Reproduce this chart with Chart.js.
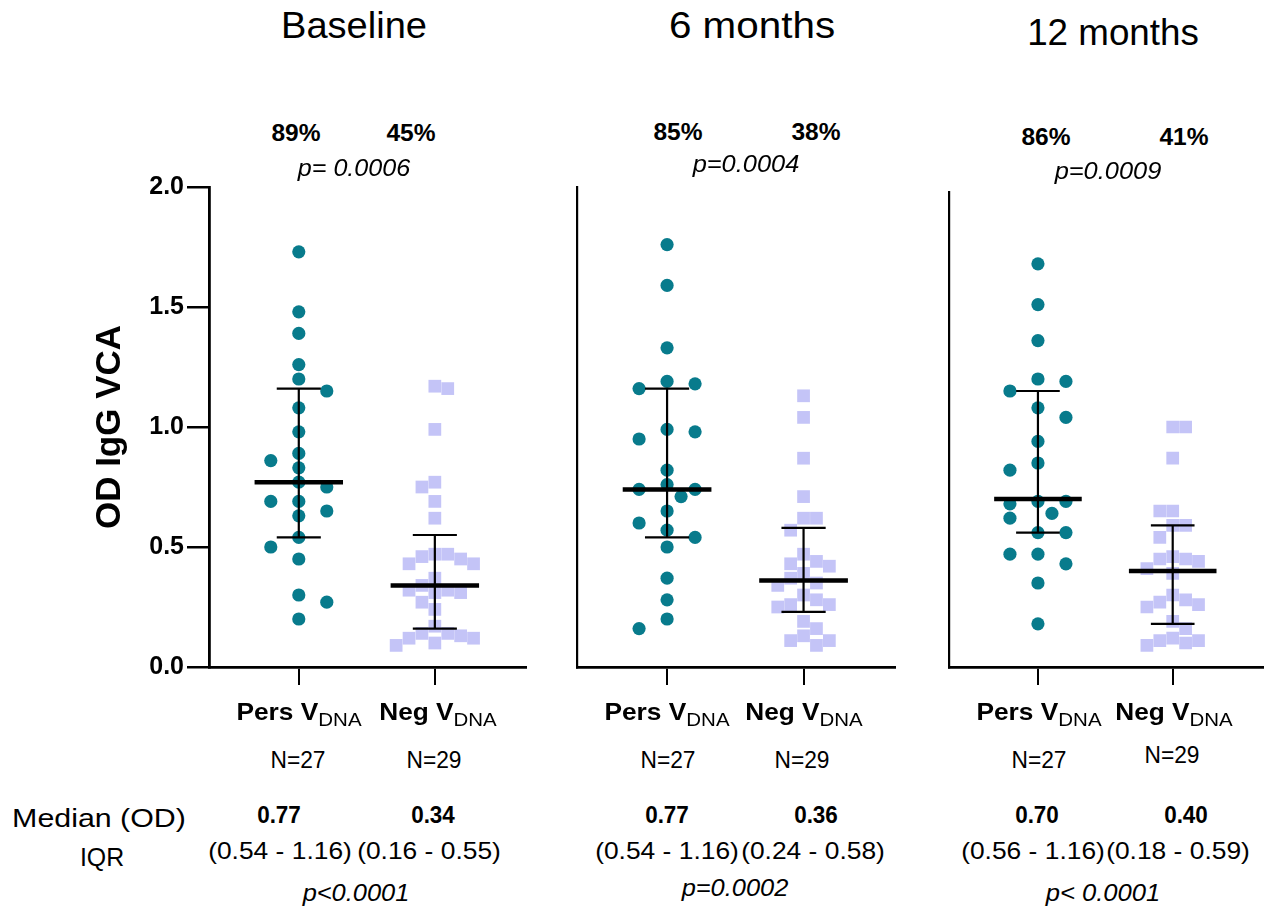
<!DOCTYPE html>
<html><head><meta charset="utf-8">
<script src="https://cdn.jsdelivr.net/npm/chart.js@4.4.0/dist/chart.umd.min.js"></script>
<style>
html,body{margin:0;padding:0;background:#fff;}
body{width:1272px;height:911px;overflow:hidden;position:relative;font-family:"Liberation Sans",Arial,Helvetica,sans-serif;}
.t{position:absolute;white-space:nowrap;line-height:1;color:#000;transform-origin:50% 50%;}
.t sub{font-size:0.78em;font-weight:normal;vertical-align:baseline;position:relative;top:0.32em;}
.c{position:absolute;}
</style></head><body>
<script>
// ---------- data ----------
const panelTitles = ['Baseline', '6 months', '12 months'];
const groupNames = ['Pers', 'Neg'];
const positivity = [['89%', '45%'], ['85%', '38%'], ['86%', '41%']];
const pTop = ['p= 0.0006', 'p=0.0004', 'p=0.0009'];
const nCounts = [[27, 29], [27, 29], [27, 29]];
const medianText = [['0.77', '0.34'], ['0.77', '0.36'], ['0.70', '0.40']];
const iqrText = [['(0.54 - 1.16)', '(0.16 - 0.55)'], ['(0.54 - 1.16)', '(0.24 - 0.58)'], ['(0.56 - 1.16)', '(0.18 - 0.59)']];
const pBottom = ['p<0.0001', 'p=0.0002', 'p< 0.0001'];
const yTicks = [0.0, 0.5, 1.0, 1.5, 2.0];

// drawn median and IQR
const medians = [[0.77, 0.34], [0.74, 0.36], [0.70, 0.40]];
const q1 = [[0.54, 0.16], [0.54, 0.23], [0.56, 0.18]];
const q3 = [[1.16, 0.55], [1.16, 0.58], [1.15, 0.59]];

// individual values
const baselinePers = [1.73, 1.48, 1.39, 1.26, 1.20, 1.15, 1.08, 0.98, 0.89, 0.86, 0.83, 0.77, 0.75, 0.69, 0.69, 0.65, 0.63, 0.54, 0.50, 0.45, 0.30, 0.27, 0.20];
const baselineNeg = [1.16, 1.17, 0.99, 0.77, 0.75, 0.69, 0.62, 0.47, 0.47, 0.46, 0.45, 0.43, 0.43, 0.37, 0.34, 0.32, 0.32, 0.31, 0.31, 0.27, 0.24, 0.17, 0.14, 0.14, 0.13, 0.12, 0.12, 0.10, 0.09];
const month6Pers = [1.76, 1.59, 1.33, 1.19, 1.18, 1.16, 0.99, 0.98, 0.95, 0.82, 0.76, 0.74, 0.74, 0.71, 0.65, 0.60, 0.57, 0.54, 0.50, 0.37, 0.28, 0.20, 0.16];
const month6Neg = [1.13, 1.04, 0.87, 0.71, 0.62, 0.62, 0.57, 0.47, 0.44, 0.43, 0.42, 0.39, 0.37, 0.35, 0.34, 0.30, 0.28, 0.26, 0.26, 0.25, 0.19, 0.16, 0.13, 0.11, 0.11, 0.09];
const month12Pers = [1.68, 1.51, 1.36, 1.20, 1.19, 1.15, 1.08, 1.04, 0.94, 0.85, 0.82, 0.69, 0.69, 0.68, 0.64, 0.62, 0.56, 0.56, 0.47, 0.47, 0.43, 0.35, 0.18];
const month12Neg = [1.00, 1.00, 0.87, 0.65, 0.65, 0.59, 0.59, 0.54, 0.46, 0.45, 0.45, 0.44, 0.41, 0.39, 0.30, 0.28, 0.27, 0.26, 0.25, 0.19, 0.16, 0.12, 0.11, 0.11, 0.10, 0.09];

const seriesPers = [baselinePers, month6Pers, month12Pers];
const seriesNeg = [baselineNeg, month6Neg, month12Neg];

// ---------- style / layout ----------
const TEAL = '#087b8c';
const LAV = '#c4c4f7';
const FONT = '"Liberation Sans", Arial, Helvetica, sans-serif';
const X_MIN = 0.34, X_MAX = 2.67;
const MED_HALF = 0.325, CAP_HALF = 0.162;
const AREA_BOTTOM = 667, CANVAS_TOP = 150, CANVAS_H = 560, X_AXIS_H = 40;
const geo = [
  {left: 209, right: 528, yAxisW: 209, yMax: 2.0, axisW: 2.8, ticks: true},
  {left: 577, right: 897, yAxisW: 20, yMax: 2.0, axisW: 2.2, ticks: false},
  {left: 949, right: 1265, yAxisW: 20, yMax: 1.98, axisW: 2.2, ticks: false}
];

// beeswarm placement in pixel space, via the chart's own scales
function swarm(chart, dsIndex, values, center, unitPx, blockCols, hyPx, levels) {
  const xs = chart.scales.x, ys = chart.scales.y;
  const cpx = xs.getPixelForValue(center);
  const order = values.map((v, i) => i).sort((a, b) => values[b] - values[a]);
  const placed = [];
  const pts = new Array(values.length);
  const free = (c, py) => !placed.some(p => Math.abs(p.col - c) <= blockCols && Math.abs(p.py - py) < hyPx);
  const sideCount = s => placed.filter(p => Math.sign(p.col) === s).length;
  for (const i of order) {
    const py = ys.getPixelForValue(values[i]);
    let col = null;
    for (const lv of levels) {
      const opts = lv === 0 ? [0] : (sideCount(-1) < sideCount(1) ? [-lv, lv] : [lv, -lv]);
      for (const c of opts) { if (free(c, py)) { col = c; break; } }
      if (col !== null) break;
    }
    if (col === null) {
      let best = -1;
      for (const lv of levels) for (const c of (lv === 0 ? [0] : [lv, -lv])) {
        let md = Infinity;
        placed.forEach(p => { md = Math.min(md, Math.hypot((p.col - c) * unitPx, p.py - py)); });
        if (md > best) { best = md; col = c; }
      }
    }
    placed.push({col, py});
    pts[i] = {x: xs.getValueForPixel(cpx + col * unitPx), y: values[i]};
  }
  chart.data.datasets[dsIndex].data = pts;
}

geo.forEach((g, p) => {
  const cLeft = g.left - g.yAxisW;
  const padR = 7;
  const cW = g.right + padR - cLeft;
  const areaTop = AREA_BOTTOM - g.yMax * 240;
  const padTop = areaTop - CANVAS_TOP;
  const padBottom = CANVAS_H - padTop - (AREA_BOTTOM - areaTop) - X_AXIS_H;
  const div = document.createElement('div');
  div.className = 'c';
  div.style.left = cLeft + 'px'; div.style.top = CANVAS_TOP + 'px';
  div.style.width = cW + 'px'; div.style.height = CANVAS_H + 'px';
  const cv = document.createElement('canvas');
  cv.width = cW; cv.height = CANVAS_H;
  div.appendChild(cv); document.body.appendChild(div);

  const med = medians[p];
  const medData = [
    {x: 1 - MED_HALF, y: med[0]}, {x: 1 + MED_HALF, y: med[0]}, {x: 1.5, y: null},
    {x: 2 - MED_HALF, y: med[1]}, {x: 2 + MED_HALF, y: med[1]}
  ];
  const iqrData = [];
  [1, 2].forEach((c, k) => {
    iqrData.push({x: c, y: q1[p][k]}, {x: c, y: q3[p][k]}, {x: c, y: null});
    iqrData.push({x: c - CAP_HALF, y: q3[p][k]}, {x: c + CAP_HALF, y: q3[p][k]}, {x: c, y: null});
    iqrData.push({x: c - CAP_HALF, y: q1[p][k]}, {x: c + CAP_HALF, y: q1[p][k]}, {x: c, y: null});
  });

  const yScale = {
    type: 'linear', min: 0, max: g.yMax,
    afterBuildTicks: s => { s.ticks = yTicks.filter(v => v <= g.yMax + 1e-9).map(v => ({value: v})); },
    afterFit: s => { s.width = g.yAxisW; },
    border: {display: true, color: '#000', width: g.axisW},
    grid: {display: g.ticks, drawOnChartArea: false, drawTicks: true, tickLength: 22, color: '#000', lineWidth: 2.5},
    ticks: {display: g.ticks, padding: 3, color: '#000', font: {family: FONT, size: 25, weight: 'bold'},
            callback: v => Number(v).toFixed(1)},
    title: {display: g.ticks, text: 'OD IgG VCA', color: '#000', font: {family: FONT, size: 35, weight: 'bold'},
            padding: {top: 89, bottom: 0}}
  };
  const xScale = {
    type: 'linear', min: X_MIN, max: X_MAX,
    afterBuildTicks: s => { s.ticks = [{value: 1}, {value: 2}]; },
    afterFit: s => { s.height = X_AXIS_H; },
    border: {display: true, color: '#000', width: 2.8},
    grid: {display: true, drawOnChartArea: false, drawTicks: true, tickLength: 18, color: '#000', lineWidth: 2},
    ticks: {display: false}
  };

  const chart = new Chart(cv, {
    type: 'scatter',
    data: {datasets: [
      {data: seriesPers[p].map(v => ({x: 1, y: v})), pointStyle: 'circle', pointRadius: 6.6, pointHoverRadius: 6.6,
       backgroundColor: TEAL, borderWidth: 0, order: 5},
      {data: seriesNeg[p].map(v => ({x: 2, y: v})), pointStyle: 'rect', pointRadius: 9, pointHoverRadius: 9,
       backgroundColor: LAV, borderWidth: 0, order: 4},
      {data: iqrData, showLine: true, spanGaps: false, borderColor: '#000', borderWidth: 2.2, pointRadius: 0,
       borderCapStyle: 'butt', order: 2},
      {data: medData, showLine: true, spanGaps: false, borderColor: '#000', borderWidth: 4.5, pointRadius: 0,
       borderCapStyle: 'butt', order: 1}
    ]},
    options: {
      responsive: false, animation: false, devicePixelRatio: 1,
      layout: {padding: {left: 0, right: padR, top: padTop, bottom: padBottom}},
      plugins: {legend: {display: false}, tooltip: {enabled: false}},
      events: [],
      scales: {x: xScale, y: yScale}
    }
  });
  swarm(chart, 0, seriesPers[p], 1, 14, 1, 14, [0, 2, 1, 3]);
  swarm(chart, 1, seriesNeg[p], 2, 12.9, 0, 12.9, [0, 1, 2, 3, 4]);
  chart.update('none');
});

// ---------- text ----------
function addText(html, cx, cy, font, w) {
  const d = document.createElement('div');
  d.className = 't';
  d.innerHTML = html;
  d.style.font = font;
  d.style.lineHeight = '1';
  d.style.left = cx + 'px'; d.style.top = cy + 'px';
  document.body.appendChild(d);
  const s = w ? w / d.offsetWidth : 1;
  d.style.transform = 'translate(-50%,-50%) scaleX(' + s.toFixed(3) + ')';
}
const F = (sz, wt, st) => (st || 'normal') + ' ' + (wt || 'normal') + ' ' + sz + 'px ' + FONT;

const titleX = [354, 752, 1113], titleY = [25, 25, 32], titleW = [146, 166, 172];
const pctX = [[296, 411], [678, 816], [1046, 1184]], pctY = [133, 132, 137];
const pTopX = [354, 746, 1108], pTopY = [168, 164, 171], pTopW = [112, 107, 107];
const grpX = [[299, 438], [667, 804], [1039, 1174]];
const nX = [[298, 434], [668, 802], [1039, 1172]], nY = [[760, 760], [760, 760], [760, 755]];
const medX = [[279, 433], [667, 816], [1037, 1186]];
const iqrX = [[280, 429], [667, 813], [1033, 1178]];
const pBotX = [356, 735, 1103], pBotY = [893, 888, 893];

panelTitles.forEach((t, i) => addText(t, titleX[i], titleY[i], F(37), titleW[i]));
positivity.forEach((pr, i) => pr.forEach((t, k) => addText(t, pctX[i][k], pctY[i], F(24, 'bold'), 49)));
pTop.forEach((t, i) => addText('<i>' + t + '</i>', pTopX[i], pTopY[i], F(24), pTopW[i]));
grpX.forEach((xs, i) => xs.forEach((x, k) =>
  addText(groupNames[k] + ' V<sub>DNA</sub>', x, 712, F(24, 'bold'), k === 0 ? 125 : 118)));
nCounts.forEach((ns, i) => ns.forEach((n, k) => addText('N=' + n, nX[i][k], nY[i][k], F(24), 55)));
addText('Median (OD)', 99, 818, F(26), 174);
addText('IQR', 102, 857, F(26), 44);
medianText.forEach((ms, i) => ms.forEach((t, k) => addText(t, medX[i][k], 815, F(24, 'bold'), 44)));
iqrText.forEach((qs, i) => qs.forEach((t, k) => addText(t, iqrX[i][k], 851, F(24), 144)));
pBottom.forEach((t, i) => addText('<i>' + t + '</i>', pBotX[i], pBotY[i], F(24), i === 2 ? 114 : 107));
</script>
</body></html>
